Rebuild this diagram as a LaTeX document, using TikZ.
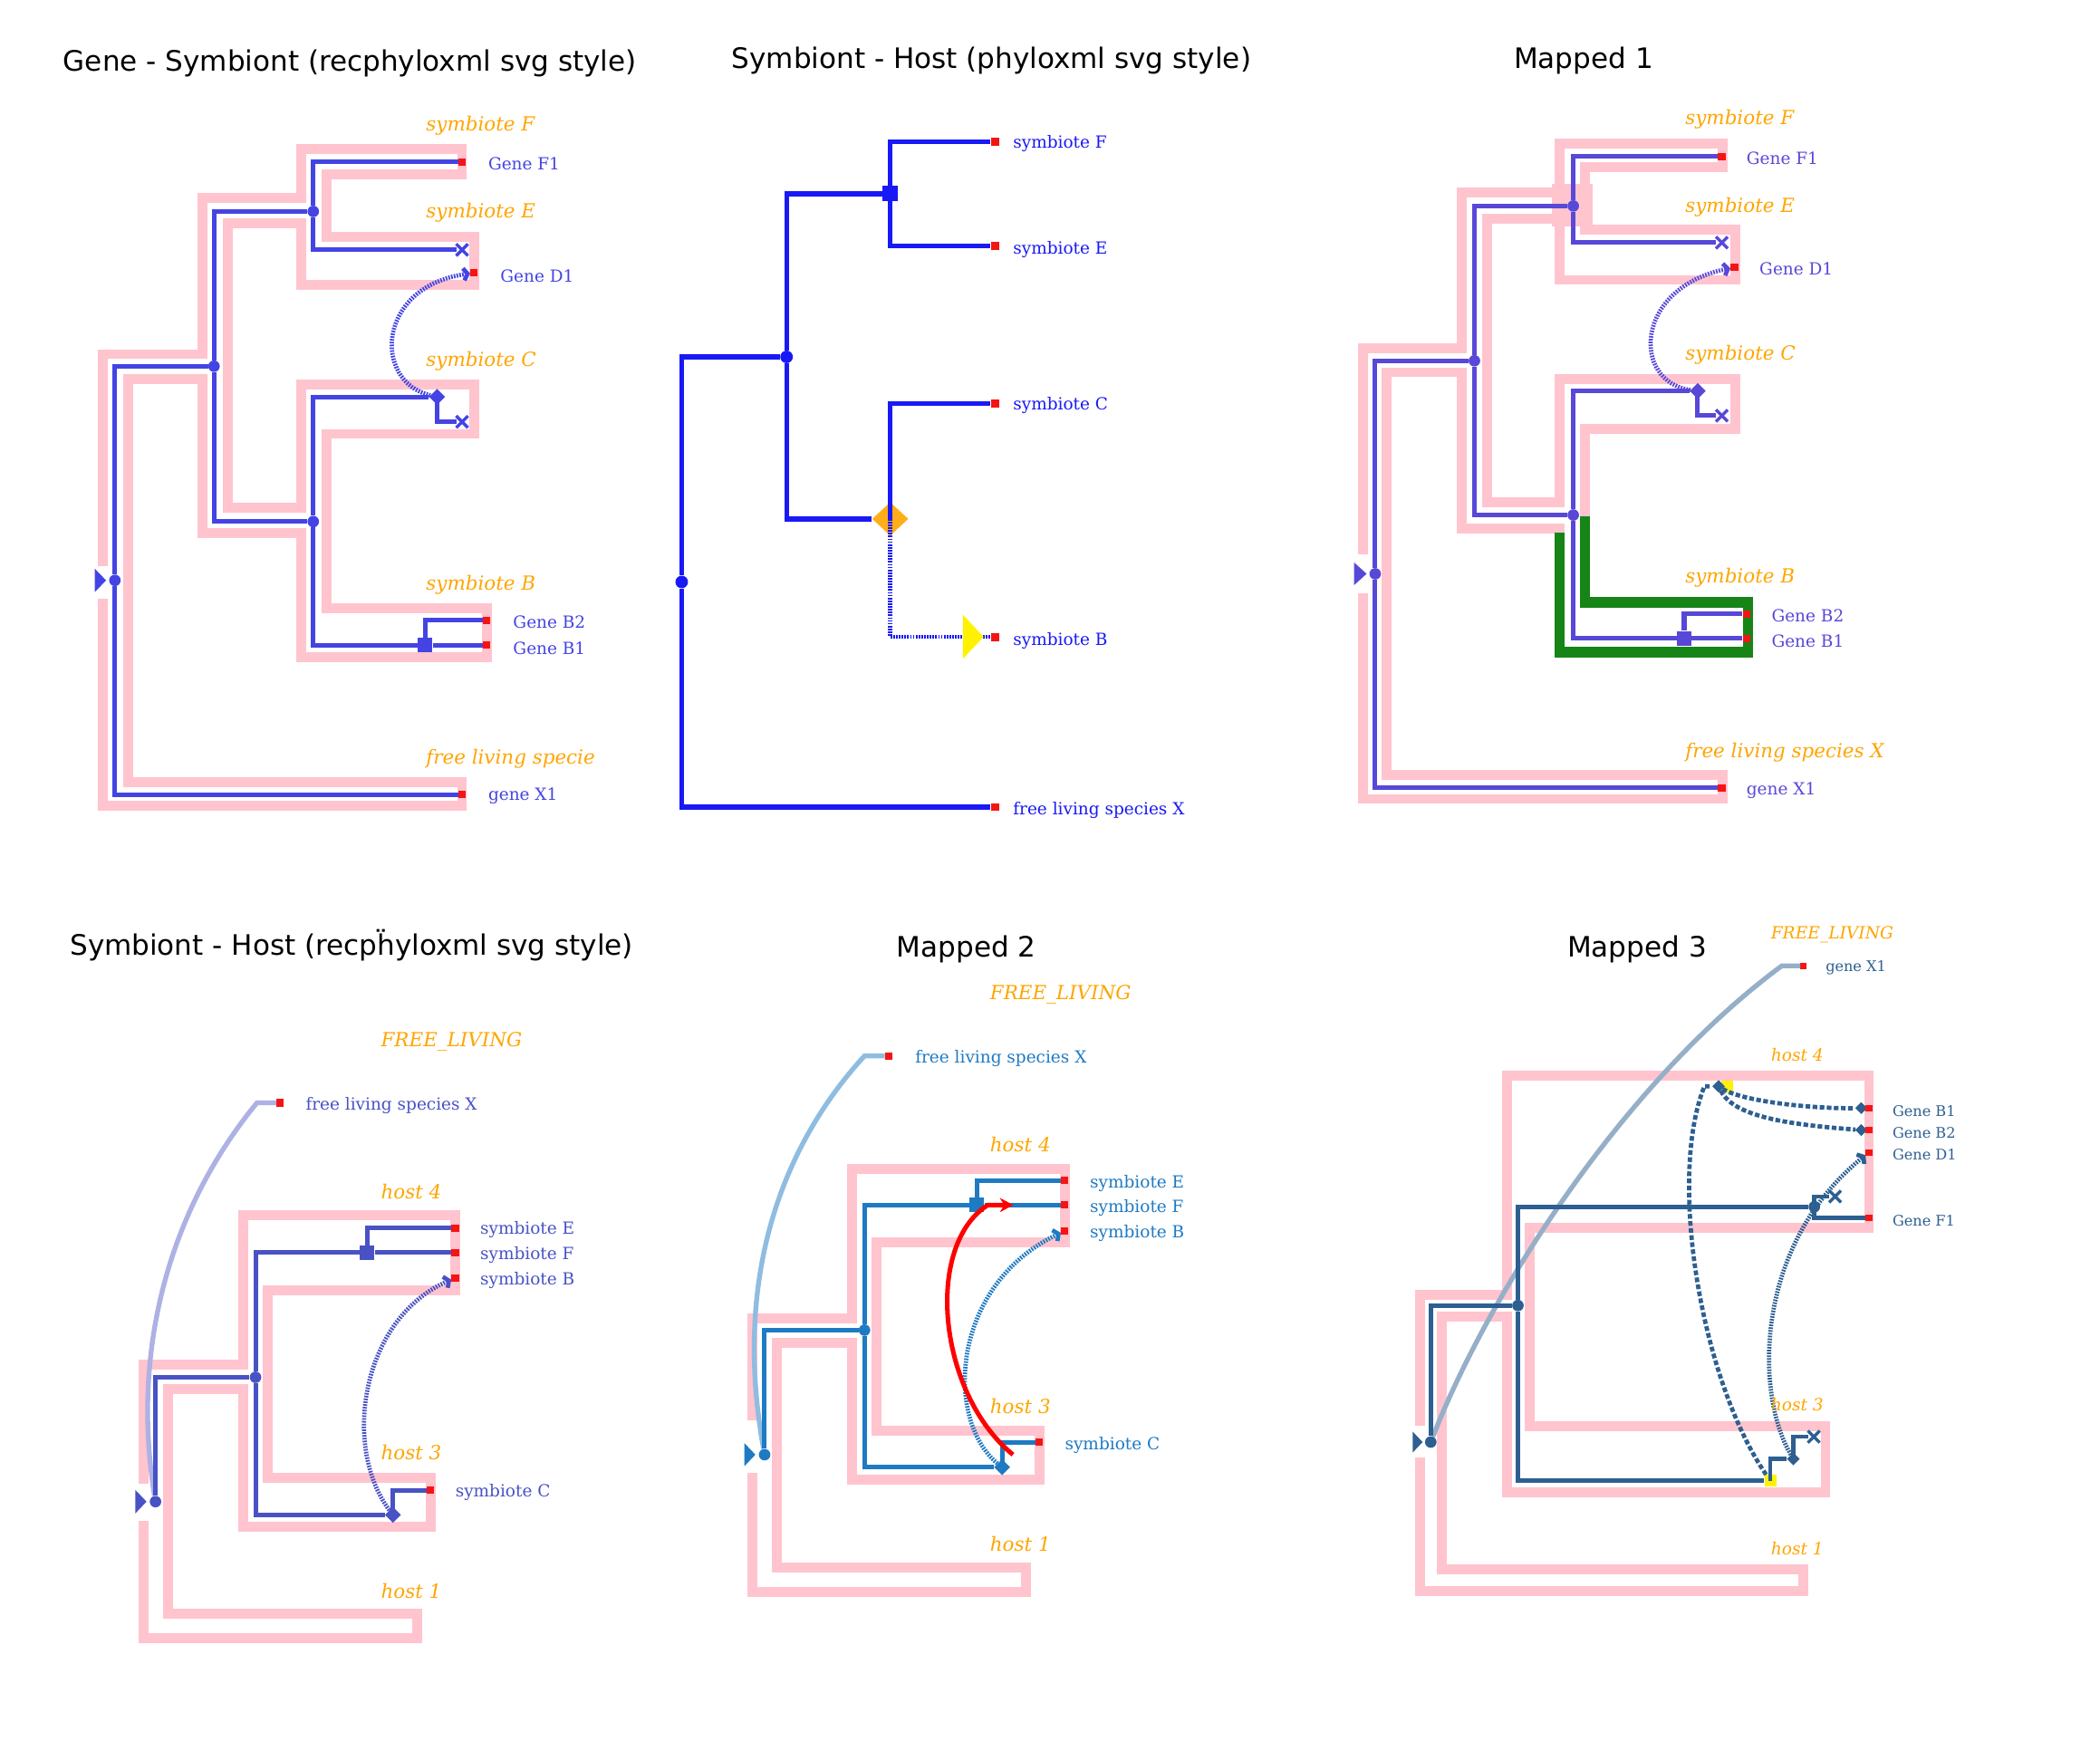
\documentclass[tikz,border=0pt]{standalone}
\usepackage{fontspec}
\setmainfont{DejaVu Serif}
\newfontfamily\ttlfam{DejaVu Sans}
\usetikzlibrary{shapes.geometric,shapes.misc,arrows.meta}

\definecolor{tubepink}{RGB}{255,196,206}
\definecolor{tubegreen}{RGB}{22,132,22}
\definecolor{leafred}{RGB}{245,20,20}
\definecolor{sporange}{RGB}{255,165,0}
\definecolor{gcolA}{RGB}{68,68,228}
\definecolor{gcolB}{RGB}{25,25,245}
\definecolor{gcolC}{RGB}{88,72,215}
\definecolor{gcolD}{RGB}{72,82,196}
\definecolor{gcolE}{RGB}{30,122,195}
\definecolor{gcolF}{RGB}{45,95,145}

\newcommand\lblfont{\fontsize{12.5}{13}\selectfont}
\newcommand\lblsmall{\fontsize{10.9}{12}\selectfont}
\newcommand\spfont{\itshape\fontsize{14.5}{15}\selectfont}
\newcommand\spsmall{\itshape\fontsize{12.6}{13}\selectfont}
\newcommand\ttlfont{\ttlfam\fontsize{21}{22}\selectfont}

\begin{document}
\begin{tikzpicture}[x=1pt, y=-1pt,
    tube/.style={draw=tubepink, line width=7.4pt},
    gline/.style={line width=3.4pt},
    dashy/.style={line width=3.2pt, dash pattern=on 3.5pt off 1.8pt},
    dot/.style={circle, fill, inner sep=0pt, minimum size=8.6pt},
    dupbox/.style={rectangle, fill, inner sep=0pt, minimum size=11pt},
    trnode/.style={diamond, fill, inner sep=0pt, minimum size=12pt},
    lossmark/.style={cross out, draw, line width=2.3pt, inner sep=0pt, minimum size=6.5pt},
    leafsq/.style={rectangle, fill=leafred, inner sep=0pt, minimum size=5.5pt},
    yelbox/.style={rectangle, fill=yellow, inner sep=0pt, minimum size=8.8pt},
    transfer/.style={line width=3.2pt, dash pattern=on 1.2pt off 0.9pt, -{Straight Barb[length=3pt, width=9pt]}},
    sp/.style={text=sporange, font=\spfont, anchor=west, inner sep=0pt},
    lab/.style={font=\lblfont, anchor=west, inner sep=0pt},
    ptitle/.style={font=\ttlfont, text=black}]
\useasboundingbox (0,0) rectangle (1568,1314);

\node[ptitle] (t1) at (261.3,47) {Gene - Symbiont (recphyloxml svg style)};
\draw[tube] (77,423) -- (77,264.5) -- (151,264.5) -- (151,147.6) -- (225,147.6) -- (225,111.5) -- (345,111.5) -- (345,130.4) -- (244,130.4) -- (244,177) -- (354,177) -- (354,213) -- (225,213) -- (225,167) -- (170,167) -- (170,379) -- (225,379) -- (225,287) -- (354,287) -- (354,324) -- (244,324) -- (244,454) -- (363.5,454) -- (363.5,491) -- (225,491) -- (225,398) -- (151,398) -- (151,283) -- (95.6,283) -- (95.6,584) -- (345,584) -- (345,602) -- (77,602) -- (77,447);
\begin{scope}[color=gcolA]
  \fill (70.7,424.6) -- (79.2,433.4) -- (70.7,442.2) -- cycle;
  \node[dot] (p1r) at (85.8,433.4) {};
  \node[dot] (p1a) at (159.8,273.5) {};
  \node[dot] (p1b) at (233.9,157.9) {};
  \node[dot] (p1c) at (233.9,389.5) {};
  \node[trnode] (p1t) at (326.4,296.4) {};
  \node[dupbox] (p1d) at (317.3,481.8) {};
  \node[lossmark] (p1xE) at (345,186.6) {};
  \node[lossmark] (p1xC) at (345,315) {};
  \node[leafsq] (p1F1) at (345,121) {};
  \node[leafsq] (p1D1) at (354,203.8) {};
  \node[leafsq] (p1B2) at (363.4,463.3) {};
  \node[leafsq] (p1B1) at (363.4,481.8) {};
  \node[leafsq] (p1X1) at (345,593.3) {};
  \draw[gline] (p1r) |- (p1a);
  \draw[gline] (p1r) |- (p1X1);
  \draw[gline] (p1a) |- (p1b);
  \draw[gline] (p1a) |- (p1c);
  \draw[gline] (p1b) |- (p1F1);
  \draw[gline] (p1b) |- (p1xE);
  \draw[gline] (p1c) |- (p1t);
  \draw[gline] (p1t.center) |- (p1xC);
  \draw[gline] (p1c) |- (p1d);
  \draw[gline] (p1d) -- (p1B1);
  \draw[gline] (p1d) |- (p1B2);
  \draw[transfer] (p1t) .. controls (278,285) and (281,214) .. (p1D1);
  \node[lab] (p1lF1) at (364.4,122) {Gene F1};
  \node[lab] (p1lD1) at (373.5,206) {Gene D1};
  \node[lab] (p1lB2) at (383,464.5) {Gene B2};
  \node[lab] (p1lB1) at (383,484) {Gene B1};
  \node[lab] (p1lX1) at (364.4,594.5) {gene X1};
\end{scope}
\node[sp] (p1sF) at (318,94) {symbiote F};
\node[sp] (p1sE) at (318,159) {symbiote E};
\node[sp] (p1sC) at (318,270) {symbiote C};
\node[sp] (p1sB) at (318,437) {symbiote B};
\begin{scope}
  \clip (300,550) rectangle (443.5,585);
  \node[sp] (p1sX) at (318,567) {free living species X};
\end{scope}

\node[ptitle] (t2) at (740.3,45) {Symbiont - Host (phyloxml svg style)};
\begin{scope}[color=gcolB]
  \node[dot, minimum size=9.4pt] (p2r) at (509,434.6) {};
  \node[dot, minimum size=9.4pt] (p2a) at (587.3,266.5) {};
  \node[dupbox, minimum size=11.5pt] (p2b) at (664.7,144.7) {};
  \node[trnode, fill=sporange, opacity=0.9, minimum width=27pt, minimum height=25pt] (p2c) at (664.7,387.5) {};
  \node[leafsq, minimum size=6pt] (p2F) at (742.8,105.8) {};
  \node[leafsq, minimum size=6pt] (p2E) at (742.8,183.7) {};
  \node[leafsq, minimum size=6pt] (p2C) at (742.8,301.4) {};
  \node[leafsq, minimum size=6pt] (p2B) at (742.8,475.6) {};
  \node[leafsq, minimum size=6pt] (p2X) at (742.8,602.7) {};
  \draw[gline, line width=3.6pt] (p2r) |- (p2a);
  \draw[gline, line width=3.6pt] (p2r) |- (p2X);
  \draw[gline, line width=3.6pt] (p2a) |- (p2b);
  \draw[gline, line width=3.6pt] (p2a) |- (p2c);
  \draw[gline, line width=3.6pt] (p2b.center) |- (p2F);
  \draw[gline, line width=3.6pt] (p2b.center) |- (p2E);
  \draw[gline, line width=3.6pt] (p2c.center) |- (p2C);
  \draw[gline, line width=3.2pt, dash pattern=on 1.2pt off 0.9pt] (p2c.center) |- (p2B);
  \fill[yellow] (719,459) -- (734.4,475.6) -- (719,492) -- cycle;
  \node[lab] (p2lF) at (756.3,107.4) {symbiote F};
  \node[lab] (p2lE) at (756.3,186.6) {symbiote E};
  \node[lab] (p2lC) at (756.3,302.6) {symbiote C};
  \node[lab] (p2lB) at (756.3,478.5) {symbiote B};
  \node[lab] (p2lX) at (756.3,604.8) {free living species X};
\end{scope}

\node[ptitle] (t3) at (1182.4,45) {Mapped 1};
\draw[tube] (1017.4,414) -- (1017.4,260.4) -- (1091.6,260.4) -- (1091.6,143.5) -- (1164.6,143.5) -- (1164.6,107.4) -- (1286.3,107.4) -- (1286.3,125) -- (1183.3,125) -- (1183.3,171.4) -- (1295.7,171.4) -- (1295.7,209) -- (1164.6,209) -- (1164.6,163.2) -- (1110.3,163.2) -- (1110.3,375) -- (1164.6,375) -- (1164.6,283) -- (1295.7,283) -- (1295.7,320) -- (1183.3,320) -- (1183.3,386);
\draw[tube] (1168.3,394.4) -- (1091.6,394.4) -- (1091.6,278) -- (1035.4,278) -- (1035.4,579) -- (1286.3,579) -- (1286.3,596.6) -- (1017.4,596.6) -- (1017.4,442.8);
\fill[tubepink] (1159,137.4) rectangle (1189.5,169);
\draw[tube, draw=tubegreen, line width=7.6pt] (1183.3,385.4) -- (1183.3,449.8) -- (1305,449.8) -- (1305,487) -- (1164.6,487) -- (1164.6,397.7);
\begin{scope}[color=gcolC]
  \fill (1011,420) -- (1020.4,428.5) -- (1011,437) -- cycle;
  \node[dot] (p3r) at (1026.8,428.5) {};
  \node[dot] (p3a) at (1100.9,269.4) {};
  \node[dot] (p3b) at (1174.7,153.8) {};
  \node[dot] (p3c) at (1174.7,384.6) {};
  \node[trnode] (p3t) at (1267.6,292) {};
  \node[dupbox] (p3d) at (1257.5,476.8) {};
  \node[lossmark] (p3xE) at (1285.6,181.2) {};
  \node[lossmark] (p3xC) at (1285.6,310.4) {};
  \node[leafsq] (p3F1) at (1285.6,116.9) {};
  \node[leafsq] (p3D1) at (1295,199.7) {};
  \node[leafsq] (p3B2) at (1303.9,458.4) {};
  \node[leafsq] (p3B1) at (1303.9,476.8) {};
  \node[leafsq] (p3X1) at (1285.6,588.4) {};
  \draw[gline] (p3r) |- (p3a);
  \draw[gline] (p3r) |- (p3X1);
  \draw[gline] (p3a) |- (p3b);
  \draw[gline] (p3a) |- (p3c);
  \draw[gline] (p3b) |- (p3F1);
  \draw[gline] (p3b) |- (p3xE);
  \draw[gline] (p3c) |- (p3t);
  \draw[gline] (p3t.center) |- (p3xC);
  \draw[gline] (p3c) |- (p3d);
  \draw[gline] (p3d) -- (p3B1);
  \draw[gline] (p3d) |- (p3B2);
  \draw[transfer] (p3t) .. controls (1218,285) and (1220,215) .. (p3D1);
  \node[lab] (p3lF1) at (1303.9,118) {Gene F1};
  \node[lab] (p3lD1) at (1313.6,201) {Gene D1};
  \node[lab] (p3lB2) at (1322.6,460) {Gene B2};
  \node[lab] (p3lB1) at (1322.6,479) {Gene B1};
  \node[lab] (p3lX1) at (1303.9,590) {gene X1};
\end{scope}
\node[sp] (p3sF) at (1258.2,89.4) {symbiote F};
\node[sp] (p3sE) at (1258.2,154.6) {symbiote E};
\node[sp] (p3sC) at (1258.2,265.3) {symbiote C};
\node[sp] (p3sB) at (1258.2,431.7) {symbiote B};
\node[sp] (p3sX) at (1258.2,561.7) {free living species X};

\node[ptitle] (t4) at (262.5,706.2) {Symbiont - Host (recpḧyloxml svg style)};
\draw[tube] (107,1107.7) -- (107,1019) -- (181.7,1019) -- (181.7,907.6) -- (339.9,907.6) -- (339.9,963.3) -- (200.2,963.3) -- (200.2,1103.4) -- (321.4,1103.4) -- (321.4,1139.9) -- (181.7,1139.9) -- (181.7,1037) -- (125.2,1037) -- (125.2,1205) -- (311.3,1205) -- (311.3,1223.4) -- (107,1223.4) -- (107,1135.6);
\begin{scope}[color=gcolD]
  \fill (101,1112.6) -- (109.4,1121.4) -- (101,1130.2) -- cycle;
  \node[dot] (p4r) at (116.1,1121.4) {};
  \node[dot] (p4a) at (190.8,1028.5) {};
  \node[dupbox] (p4d) at (274.2,935.5) {};
  \node[trnode] (p4t) at (293.4,1131.3) {};
  \node[leafsq] (p4E) at (339.9,917) {};
  \node[leafsq] (p4F) at (339.9,935.5) {};
  \node[leafsq] (p4B) at (339.9,954.3) {};
  \node[leafsq] (p4C) at (321.4,1112.9) {};
  \node[leafsq] (p4X) at (209.3,823.6) {};
  \draw[line width=3.6pt, gcolD!45] (p4r) .. controls (98,1010) and (125,905) .. (191.8,823.6) -- (p4X);
  \draw[gline] (p4r) |- (p4a);
  \draw[gline] (p4a) |- (p4d);
  \draw[gline] (p4a) |- (p4t);
  \draw[gline] (p4d) -- (p4F);
  \draw[gline] (p4d) |- (p4E);
  \draw[gline] (p4t.center) |- (p4C);
  \draw[transfer] (p4t) .. controls (255,1080) and (270,985) .. (p4B);
  \node[lab] (p4lE) at (358.4,918.3) {symbiote E};
  \node[lab] (p4lF) at (358.4,937.2) {symbiote F};
  \node[lab] (p4lB) at (358.4,956) {symbiote B};
  \node[lab] (p4lC) at (339.9,1114.6) {symbiote C};
  \node[lab] (p4lX) at (228.1,825.8) {free living species X};
\end{scope}
\node[sp] (p4sFL) at (284.3,778.2) {FREE\_LIVING};
\node[sp] (p4s4) at (284.3,889.6) {host 4};
\node[sp] (p4s3) at (284.3,1085) {host 3};
\node[sp] (p4s1) at (284.3,1187.9) {host 1};

\node[ptitle] (t5) at (721.5,709.2) {Mapped 2};
\draw[tube] (561.8,1060.6) -- (561.8,984.3) -- (636.4,984.3) -- (636.4,872.9) -- (795,872.9) -- (795,927.8) -- (654.5,927.8) -- (654.5,1068.3) -- (776,1068.3) -- (776,1104.7) -- (636.4,1104.7) -- (636.4,1002.7) -- (580,1002.7) -- (580,1170.7) -- (766.3,1170.7) -- (766.3,1189.1) -- (561.8,1189.1) -- (561.8,1100);
\begin{scope}[color=gcolE]
  \fill (555.8,1077.7) -- (564,1086.3) -- (555.8,1094.9) -- cycle;
  \node[dot] (p5r) at (570.9,1086.3) {};
  \node[dot] (p5a) at (645.5,993.3) {};
  \node[dupbox] (p5d) at (729.4,899.9) {};
  \node[trnode] (p5t) at (748.2,1095.7) {};
  \node[leafsq] (p5E) at (795,881.5) {};
  \node[leafsq] (p5F) at (795,899.9) {};
  \node[leafsq] (p5B) at (795,919.2) {};
  \node[leafsq] (p5C) at (776,1076.9) {};
  \node[leafsq] (p5X) at (663.6,788.5) {};
  \draw[line width=3.6pt, gcolE!50] (p5r) .. controls (548,960) and (580,860) .. (645.5,788.5) -- (p5X);
  \draw[gline] (p5r) |- (p5a);
  \draw[gline] (p5a) |- (p5d);
  \draw[gline] (p5a) |- (p5t);
  \draw[gline] (p5d) -- (p5F);
  \draw[gline] (p5d) |- (p5E);
  \draw[gline] (p5t.center) |- (p5C);
  \draw[transfer] (p5t) .. controls (705,1060) and (710,960) .. (p5B);
  \coordinate (p5qs) at (756.3,1086.3);
  \coordinate (p5qe) at (756.6,899.9);
  \draw[line width=3.4pt, red, -{Stealth[length=10pt, width=10.6pt]}] (p5qs) .. controls (700,1040) and (690,930) .. (737.6,899.9) -- (p5qe);
  \node[lab] (p5lE) at (813.7,883.6) {symbiote E};
  \node[lab] (p5lF) at (813.7,902) {symbiote F};
  \node[lab] (p5lB) at (813.7,921.3) {symbiote B};
  \node[lab] (p5lC) at (795,1079.4) {symbiote C};
  \node[lab] (p5lX) at (683.2,790.6) {free living species X};
\end{scope}
\node[sp] (p5sFL) at (739.1,742.6) {FREE\_LIVING};
\node[sp] (p5s4) at (739.1,854.5) {host 4};
\node[sp] (p5s3) at (739.1,1049.9) {host 3};
\node[sp] (p5s1) at (739.1,1152.7) {host 1};

\node[ptitle] (t6) at (1222.3,709.2) {Mapped 3};
\draw[tube] (1060,1064.9) -- (1060,967.2) -- (1125.4,967.2) -- (1125.4,803.5) -- (1395.5,803.5) -- (1395.5,917.1) -- (1142.4,917.1) -- (1142.4,1064.9) -- (1363,1064.9) -- (1363,1114.2) -- (1125.4,1114.2) -- (1125.4,983.5) -- (1076.6,983.5) -- (1076.6,1172) -- (1346.7,1172) -- (1346.7,1187.9) -- (1060,1187.9) -- (1060,1088.4);
\begin{scope}[color=gcolF]
  \fill (1054.9,1069.2) -- (1062.2,1076.9) -- (1054.9,1084.6) -- cycle;
  \node[dot] (p6r) at (1068.3,1076.9) {};
  \node[dot] (p6a) at (1133.4,974.9) {};
  \node[dot] (p6b) at (1354.7,901.2) {};
  \node[yelbox] (p6y) at (1321.8,1105.8) {};
  \node[yelbox] (p6z) at (1289.4,811.1) {};
  \node[trnode, minimum size=9.7pt] (p6t) at (1339,1089.5) {};
  \node[trnode, minimum size=9.5pt] (p6s) at (1283.2,811.2) {};
  \node[trnode, minimum size=9pt] (p6dB1) at (1389.7,827.5) {};
  \node[trnode, minimum size=9pt] (p6dB2) at (1389.7,843.9) {};
  \node[lossmark] (p6xA) at (1354.3,1072.9) {};
  \node[lossmark] (p6xF) at (1370.2,893.5) {};
  \node[leafsq, minimum size=4.8pt] (p6B1) at (1395.5,827.5) {};
  \node[leafsq, minimum size=4.8pt] (p6B2) at (1395.5,843.9) {};
  \node[leafsq, minimum size=4.8pt] (p6D1) at (1395.5,860.5) {};
  \node[leafsq, minimum size=4.8pt] (p6F1) at (1395.5,909.3) {};
  \node[leafsq, minimum size=4.8pt] (p6X1) at (1346.7,721.2) {};
  \draw[line width=3.6pt, gcolF!50] (p6r) .. controls (1110,970) and (1210,810) .. (1330.5,721.2) -- (p6X1);
  \draw[gline, line width=3.2pt] (p6r) |- (p6a);
  \draw[gline, line width=3.2pt] (p6a) |- (p6b);
  \draw[gline, line width=3.2pt] (p6a) |- (p6y);
  \draw[gline, line width=3.2pt] (p6b.center) |- (p6xF);
  \draw[gline, line width=3.2pt] (p6b.center) |- (p6F1);
  \draw[gline, line width=3.2pt] (p6y.center) |- (p6t);
  \draw[gline, line width=3.2pt] (p6t.center) |- (p6xA);
  \draw[dashy] (p6y) .. controls (1270,1030) and (1245,880) .. (1272.6,811.2) -- (p6s);
  \draw[dashy] (p6s) .. controls (1300,822) and (1350,828) .. (p6dB1);
  \draw[dashy] (p6s) .. controls (1295,835) and (1340,840) .. (p6dB2);
  \draw[transfer] (p6t) .. controls (1310,1040) and (1310,930) .. (p6D1);
  \node[lab, font=\lblsmall] (p6lB1) at (1412.9,829.6) {Gene B1};
  \node[lab, font=\lblsmall] (p6lB2) at (1412.9,845.9) {Gene B2};
  \node[lab, font=\lblsmall] (p6lD1) at (1412.9,862.2) {Gene D1};
  \node[lab, font=\lblsmall] (p6lF1) at (1412.9,911.5) {Gene F1};
  \node[lab, font=\lblsmall] (p6lX1) at (1363,722.9) {gene X1};
\end{scope}
\node[sp, font=\spsmall] (p6sFL) at (1322.1,697.6) {FREE\_LIVING};
\node[sp, font=\spsmall] (p6s4) at (1322.1,787.6) {host 4};
\node[sp, font=\spsmall] (p6s3) at (1322.1,1049) {host 3};
\node[sp, font=\spsmall] (p6s1) at (1322.1,1156.1) {host 1};
\end{tikzpicture}
\end{document}
